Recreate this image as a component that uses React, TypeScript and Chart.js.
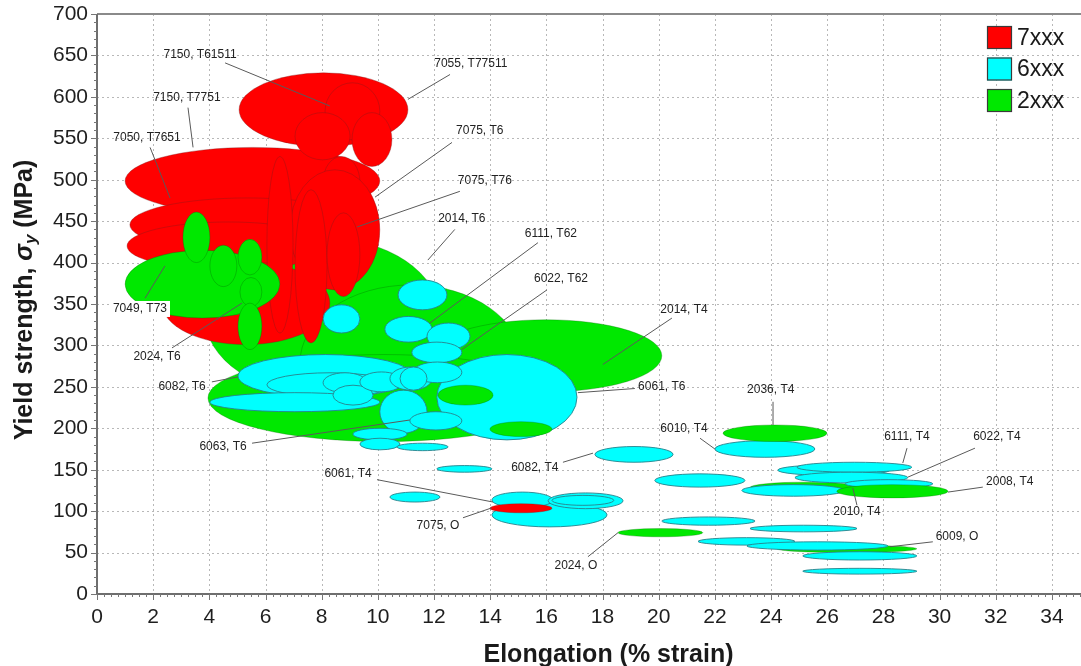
import { useEffect, useRef } from "react";
import { Chart, registerables } from "chart.js";

Chart.register(...registerables);

type Range = [number, number, number, number]; // [elongMin, elongMax, strengthMin, strengthMax]

const FONT = '"Liberation Sans", Arial, Helvetica, sans-serif';

const xTicks = [0, 2, 4, 6, 8, 10, 12, 14, 16, 18, 20, 22, 24, 26, 28, 30, 32, 34];
const yTicks = [0, 50, 100, 150, 200, 250, 300, 350, 400, 450, 500, 550, 600, 650, 700];

const legendNames = ["7xxx", "6xxx", "2xxx"];

// 2xxx large envelopes (drawn behind the 7xxx family)
const green2xxxBack: Range[] = [
  [3.84, 12.21, 240, 430],
  [7.23, 15.13, 186, 373],
  [11.85, 20.11, 244, 331],
  [3.95, 16.48, 184, 289],
  [23.25, 27.16, 122, 135],
  [24.21, 29.19, 50, 59],
];

// 7xxx alloys
const red7xxx: Range[] = [
  [1.0, 10.07, 458, 539],
  [1.17, 9.54, 413, 478],
  [1.07, 8.29, 391, 449],
  [2.31, 8.29, 301, 401],
  [5.06, 11.07, 540, 629],
  [8.12, 10.07, 548, 617],
  [7.05, 9.01, 524, 581],
  [9.08, 10.5, 516, 581],
  [8.05, 9.36, 467, 528],
  [6.87, 10.07, 367, 512],
  [6.05, 6.98, 315, 528],
  [7.05, 8.19, 303, 488],
  [8.19, 9.36, 359, 460],
];

// 2xxx alloys drawn over the 7xxx family
const green2xxxFront: Range[] = [
  [1.0, 6.51, 333, 415],
  [3.06, 4.02, 400, 461],
  [4.02, 4.98, 371, 421],
  [5.02, 5.87, 385, 428],
  [5.09, 5.87, 347, 382],
  [5.02, 5.87, 295, 351],
];

// 6xxx alloys
const cyan6xxx: Range[] = [
  [12.1, 17.09, 186, 289],
  [5.02, 11.25, 237, 289],
  [6.05, 10.54, 238, 267],
  [4.02, 10.07, 220, 243],
  [8.05, 9.61, 243, 267],
  [8.4, 9.83, 228, 252],
  [9.36, 10.89, 244, 268],
  [10.43, 11.93, 246, 274],
  [10.07, 11.75, 194, 246],
  [8.05, 9.36, 315, 349],
  [10.72, 12.46, 343, 379],
  [10.25, 11.93, 304, 335],
  [11.75, 13.28, 295, 327],
  [11.21, 12.99, 279, 304],
  [11.25, 12.99, 255, 280],
  [10.79, 11.75, 246, 274],
  [11.14, 12.99, 198, 220],
  [9.11, 11.04, 186, 200],
  [9.36, 10.79, 174, 188],
  [10.68, 12.5, 173, 182],
  [12.1, 14.06, 147, 155],
  [10.43, 12.21, 111, 123],
  [14.06, 18.16, 81, 110],
  [14.06, 16.23, 104, 123],
  [16.06, 18.73, 103, 122],
  [16.2, 18.4, 107, 119],
  [17.73, 20.51, 159, 178],
  [22.0, 25.56, 165, 185],
  [19.86, 23.07, 129, 145],
  [24.24, 28.23, 143, 156],
  [24.92, 29.01, 147, 159],
  [24.85, 28.87, 134, 147],
  [26.63, 29.76, 128, 138],
  [22.96, 26.63, 118, 132],
  [20.11, 23.43, 83, 93],
  [23.25, 27.06, 75, 83],
  [21.4, 24.85, 59, 68],
  [23.14, 28.16, 53, 63],
  [25.13, 29.19, 41, 51],
  [25.13, 29.19, 24, 31],
];

// 2xxx alloys drawn over the 6xxx family
const green2xxxTop: Range[] = [
  [12.14, 14.1, 228, 252],
  [13.99, 16.2, 190, 208],
  [22.29, 25.99, 184, 204],
  [26.34, 30.3, 116, 132],
  [18.55, 21.57, 69, 79],
];

// 7xxx annealed
const red7xxxTop: Range[] = [[13.99, 16.2, 98, 109]];

type Note = { text: string; at: [number, number]; from: [number, number]; to: [number, number]; box?: boolean };

const annotations: Note[] = [
  { text: "7150, T61511", at: [3.67, 651], from: [4.56, 641], to: [8.29, 589] },
  { text: "7055, T77511", at: [13.31, 640], from: [12.57, 627], to: [11.07, 597] },
  { text: "7150, T7751", at: [3.2, 599], from: [3.24, 587], to: [3.42, 539] },
  { text: "7050, T7651", at: [1.78, 551], from: [1.89, 539], to: [2.6, 478] },
  { text: "7075, T6", at: [13.63, 559], from: [12.64, 545], to: [9.9, 479] },
  { text: "7075, T76", at: [13.81, 499], from: [12.92, 486], to: [9.26, 443] },
  { text: "2014, T6", at: [12.99, 453], from: [12.74, 440], to: [11.78, 403] },
  { text: "6111, T62", at: [16.16, 435], from: [15.7, 424], to: [11.85, 327] },
  { text: "6022, T62", at: [16.52, 380], from: [16.02, 367], to: [12.99, 295] },
  { text: "2014, T4", at: [20.9, 343], from: [20.47, 333], to: [18.01, 277] },
  { text: "6061, T6", at: [20.11, 250], from: [19.15, 248], to: [17.12, 243] },
  { text: "2036, T4", at: [23.99, 246], from: [24.07, 232], to: [24.07, 204] },
  { text: "6010, T4", at: [20.9, 200], from: [21.47, 188], to: [22.0, 175] },
  { text: "6082, T4", at: [15.59, 152], from: [16.59, 159], to: [17.66, 170] },
  { text: "6061, T4", at: [8.94, 145], from: [9.97, 138], to: [14.1, 111] },
  { text: "7075, O", at: [12.14, 83], from: [13.03, 92], to: [14.06, 104] },
  { text: "2024, O", at: [17.05, 34], from: [17.48, 45], to: [18.55, 74] },
  { text: "6111, T4", at: [28.84, 190], from: [28.84, 176], to: [28.69, 158] },
  { text: "6022, T4", at: [32.04, 190], from: [31.26, 176], to: [28.87, 141] },
  { text: "2008, T4", at: [32.5, 135], from: [31.54, 129], to: [30.3, 123] },
  { text: "2010, T4", at: [27.06, 99], from: [27.06, 107], to: [26.91, 128] },
  { text: "6009, O", at: [30.62, 69], from: [29.76, 63], to: [28.23, 57] },
  { text: "7049, T73", at: [1.53, 344], from: [1.71, 357], to: [2.42, 396], box: true },
  { text: "2024, T6", at: [2.14, 286], from: [2.67, 297], to: [5.16, 351] },
  { text: "6082, T6", at: [3.03, 250], from: [4.09, 256], to: [5.02, 262] },
  { text: "6063, T6", at: [4.49, 178], from: [5.52, 182], to: [11.14, 210] },
];

const RED = "#ff0000";
const CYAN = "#00ffff";
const GREEN = "#00e800";
const RED_EDGE = "rgba(120,30,30,0.35)";
const CYAN_EDGE = "rgba(40,130,140,0.9)";
const GREEN_EDGE = "rgba(0,100,0,0.3)";

const legendColors = [RED, CYAN, GREEN];

const plugin = {
  id: "alloyEllipses",
  beforeDatasetsDraw(chart: any) {
    const { ctx, chartArea: a, scales } = chart;
    const x = scales.x;
    const y = scales.y;
    // dotted grid
    ctx.save();
    ctx.strokeStyle = "#b8b8b8";
    ctx.lineWidth = 1;
    ctx.setLineDash([2, 3]);
    xTicks.forEach((v) => {
      if (v === 0) return;
      const px = Math.round(x.getPixelForValue(v)) + 0.5;
      ctx.beginPath();
      ctx.moveTo(px, a.top);
      ctx.lineTo(px, a.bottom);
      ctx.stroke();
    });
    yTicks.forEach((v) => {
      if (v === 0 || v === 700) return;
      const py = Math.round(y.getPixelForValue(v)) + 0.5;
      ctx.beginPath();
      ctx.moveTo(a.left, py);
      ctx.lineTo(a.right, py);
      ctx.stroke();
    });
    ctx.restore();
    // ellipses
    ctx.save();
    ctx.lineWidth = 1;
    chart.data.datasets.forEach((ds: any) => {
      ds.data.forEach((p: any) => {
        const x0 = x.getPixelForValue(p.x0);
        const x1 = x.getPixelForValue(p.x1);
        const y0 = y.getPixelForValue(p.y0);
        const y1 = y.getPixelForValue(p.y1);
        ctx.beginPath();
        ctx.ellipse((x0 + x1) / 2, (y0 + y1) / 2, Math.abs(x1 - x0) / 2, Math.abs(y1 - y0) / 2, 0, 0, Math.PI * 2);
        ctx.fillStyle = ds.backgroundColor;
        ctx.fill();
        ctx.strokeStyle = ds.borderColor;
        ctx.stroke();
      });
    });
    ctx.restore();
  },
  afterDatasetsDraw(chart: any) {
    const { ctx, chartArea: a, scales } = chart;
    const x = scales.x;
    const y = scales.y;
    ctx.save();
    // top border
    ctx.strokeStyle = "#8a8a8a";
    ctx.lineWidth = 2;
    ctx.beginPath();
    ctx.moveTo(a.left, a.top);
    ctx.lineTo(a.right + 1, a.top);
    ctx.stroke();
    // axes
    ctx.strokeStyle = "#6e6e6e";
    ctx.beginPath();
    ctx.moveTo(a.left, a.top);
    ctx.lineTo(a.left, a.bottom);
    ctx.lineTo(a.right + 1, a.bottom);
    ctx.stroke();
    // ticks
    ctx.lineWidth = 1;
    ctx.strokeStyle = "#777";
    for (let v = 0; v <= 35.001; v += 0.25) {
      const px = Math.round(x.getPixelForValue(v)) + 0.5;
      const major = Math.abs(v / 2 - Math.round(v / 2)) < 1e-6;
      ctx.beginPath();
      ctx.moveTo(px, a.bottom);
      ctx.lineTo(px, a.bottom + (major ? 6 : 3));
      ctx.stroke();
    }
    for (let v = 0; v <= 700; v += 10) {
      const py = Math.round(y.getPixelForValue(v)) + 0.5;
      const major = v % 50 === 0;
      ctx.beginPath();
      ctx.moveTo(a.left, py);
      ctx.lineTo(a.left - (major ? 6 : 3), py);
      ctx.stroke();
    }
    // annotations
    ctx.font = `12px ${FONT}`;
    ctx.textAlign = "center";
    ctx.textBaseline = "middle";
    annotations.forEach((n) => {
      ctx.strokeStyle = "#5a5a5a";
      ctx.lineWidth = 1;
      ctx.beginPath();
      ctx.moveTo(x.getPixelForValue(n.from[0]), y.getPixelForValue(n.from[1]));
      ctx.lineTo(x.getPixelForValue(n.to[0]), y.getPixelForValue(n.to[1]));
      ctx.stroke();
      const tx = x.getPixelForValue(n.at[0]);
      const ty = y.getPixelForValue(n.at[1]);
      if (n.box) {
        const w = ctx.measureText(n.text).width;
        ctx.fillStyle = "#ffffff";
        ctx.fillRect(tx - w / 2 - 3, ty - 8, w + 6, 16);
      }
      ctx.fillStyle = "#222";
      ctx.fillText(n.text, tx, ty);
    });
    // legend
    legendNames.forEach((name, i) => {
      const bx = a.right - 93;
      const by = a.top + 12 + i * 31.5;
      ctx.fillStyle = legendColors[i];
      ctx.fillRect(bx, by, 25, 23);
      ctx.strokeStyle = "#3a3a3a";
      ctx.lineWidth = 1.2;
      ctx.strokeRect(bx + 0.5, by + 0.5, 24, 22);
      ctx.fillStyle = "#1a1a1a";
      ctx.font = `23px ${FONT}`;
      ctx.textAlign = "left";
      ctx.textBaseline = "middle";
      ctx.fillText(name, bx + 30, by + 12.5);
    });
    // x title
    ctx.fillStyle = "#1a1a1a";
    ctx.font = `bold 25px ${FONT}`;
    ctx.textAlign = "center";
    ctx.textBaseline = "middle";
    ctx.fillText("Elongation (% strain)", (a.left + a.right) / 2 + 20, 655);
    // y title (rotated, with subscript)
    ctx.translate(25, (a.top + a.bottom) / 2 - 4);
    ctx.rotate(-Math.PI / 2);
    const parts: { t: string; f: string; dy: number }[] = [
      { t: "Yield strength, ", f: `bold 25px ${FONT}`, dy: 0 },
      { t: "σ", f: `italic bold 25px ${FONT}`, dy: 0 },
      { t: "y", f: `italic bold 17px ${FONT}`, dy: 6 },
      { t: " (MPa)", f: `bold 25px ${FONT}`, dy: 0 },
    ];
    let total = 0;
    parts.forEach((p) => {
      ctx.font = p.f;
      total += ctx.measureText(p.t).width;
    });
    let cx = -total / 2;
    ctx.textAlign = "left";
    parts.forEach((p) => {
      ctx.font = p.f;
      ctx.fillText(p.t, cx, p.dy);
      cx += ctx.measureText(p.t).width;
    });
    ctx.restore();
  },
};

export default function App() {
  const ref = useRef<HTMLCanvasElement>(null);
  useEffect(() => {
    const canvas = ref.current;
    if (!canvas) return;
    const toPoints = (arr: Range[]) =>
      arr.map(([x0, x1, y0, y1]) => ({ x: (x0 + x1) / 2, y: (y0 + y1) / 2, x0, x1, y0, y1 }));
    const layers = [
      { label: "2xxx (envelopes)", ranges: green2xxxBack, fill: GREEN, edge: GREEN_EDGE },
      { label: "7xxx", ranges: red7xxx, fill: RED, edge: RED_EDGE },
      { label: "2xxx (T6)", ranges: green2xxxFront, fill: GREEN, edge: GREEN_EDGE },
      { label: "6xxx", ranges: cyan6xxx, fill: CYAN, edge: CYAN_EDGE },
      { label: "2xxx (T4/O)", ranges: green2xxxTop, fill: GREEN, edge: GREEN_EDGE },
      { label: "7xxx (O)", ranges: red7xxxTop, fill: RED, edge: RED_EDGE },
    ];
    const tickFont = { family: FONT, size: 21 };
    const chart = new Chart(canvas, {
      type: "scatter",
      data: {
        datasets: layers.map((l) => ({
          label: l.label,
          data: toPoints(l.ranges),
          backgroundColor: l.fill,
          borderColor: l.edge,
          pointRadius: 0,
          pointHoverRadius: 0,
        })),
      },
      options: {
        responsive: false,
        animation: false,
        events: [],
        layout: { padding: { top: 14, right: 1, left: 0, bottom: 0 } },
        plugins: { legend: { display: false }, tooltip: { enabled: false }, title: { display: false } },
        scales: {
          x: {
            type: "linear",
            min: 0,
            max: 35,
            afterBuildTicks: (s: any) => {
              s.ticks = xTicks.map((v) => ({ value: v }));
            },
            afterFit: (s: any) => {
              s.height = 72;
              s.paddingLeft = 0;
              s.paddingRight = 0;
            },
            grid: { display: false, drawTicks: false },
            border: { display: false },
            ticks: { font: tickFont, color: "#1e1e1e", padding: 11, maxRotation: 0, autoSkip: false },
          },
          y: {
            type: "linear",
            min: 0,
            max: 700,
            afterBuildTicks: (s: any) => {
              s.ticks = yTicks.map((v) => ({ value: v }));
            },
            afterFit: (s: any) => {
              s.width = 97;
              s.paddingTop = 0;
              s.paddingBottom = 0;
            },
            grid: { display: false, drawTicks: false },
            border: { display: false },
            ticks: { font: tickFont, color: "#1e1e1e", padding: 9, autoSkip: false },
          },
        },
      } as any,
      plugins: [plugin],
    });
    return () => chart.destroy();
  }, []);
  return (
    <div style={{ position: "absolute", left: 0, top: 0, width: 1081, height: 666, background: "#fff" }}>
      <canvas ref={ref} width={1081} height={666} style={{ display: "block" }} />
    </div>
  );
}
